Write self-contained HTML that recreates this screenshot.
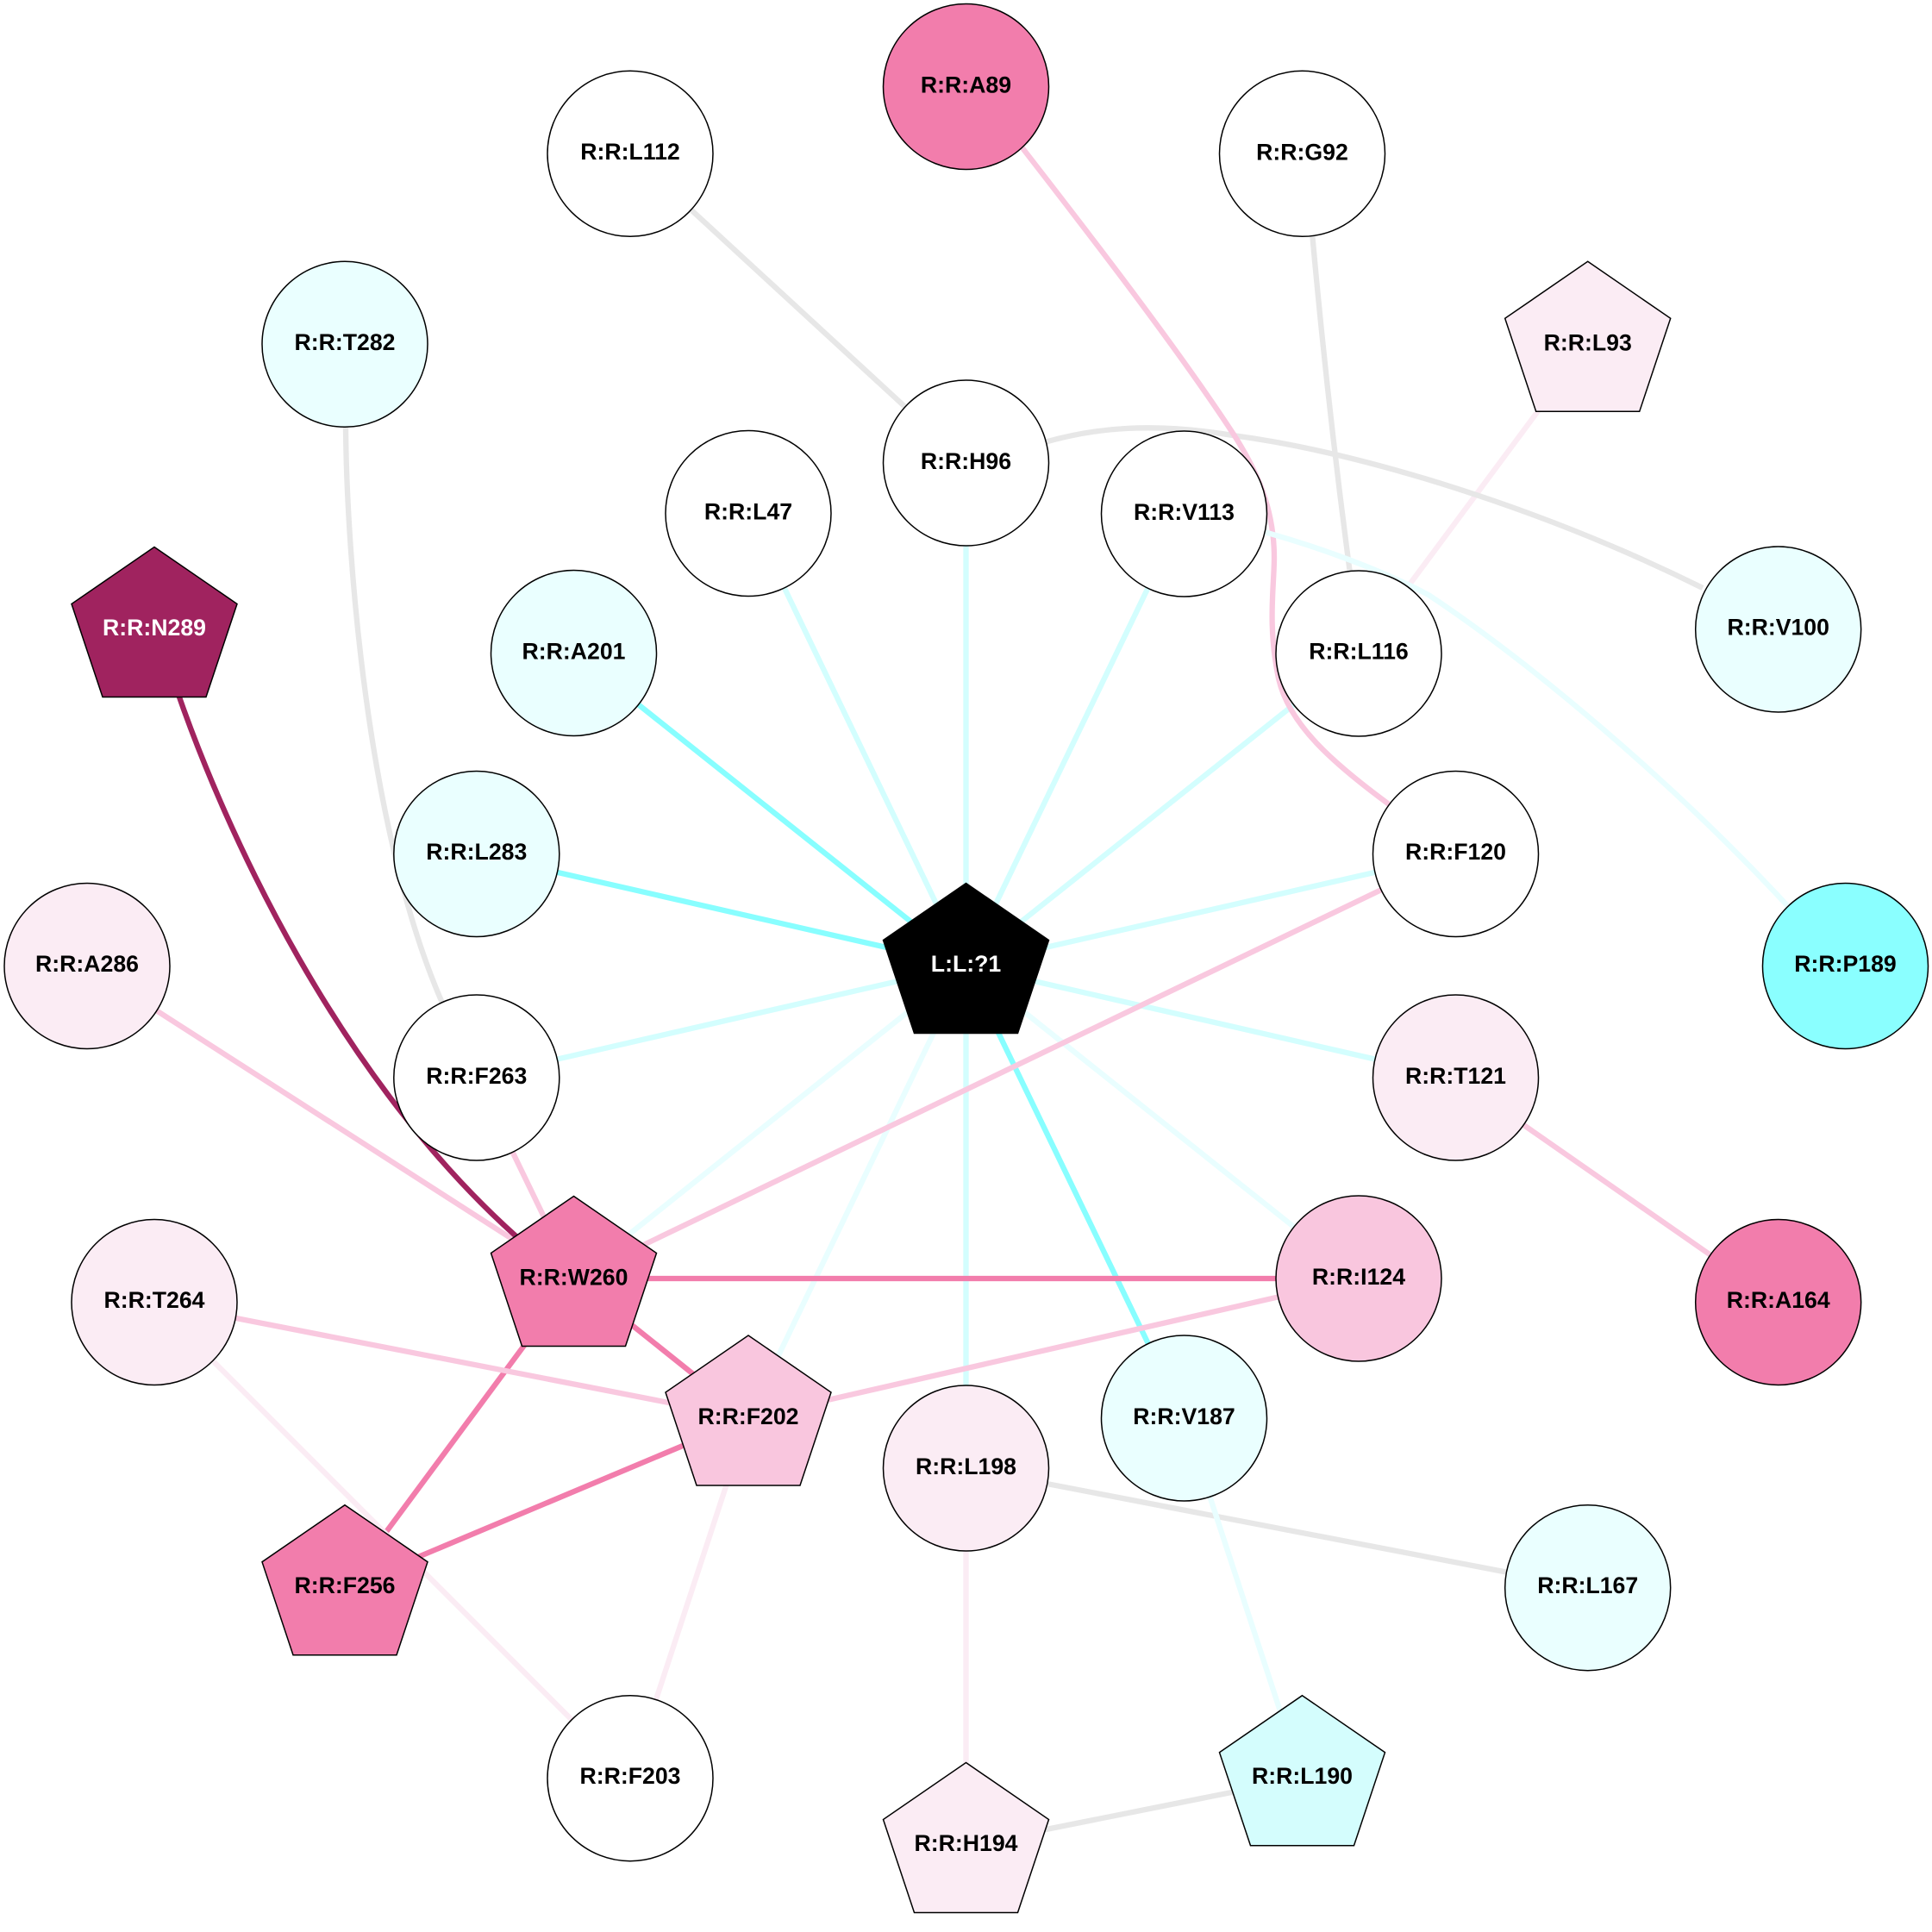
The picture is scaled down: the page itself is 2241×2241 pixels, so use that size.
<!DOCTYPE html>
<html>
<head>
<meta charset="utf-8">
<style>
html,body{margin:0;padding:0;background:#fff}
svg{display:block}
text{font-family:"Liberation Sans",sans-serif;font-weight:bold;font-size:26.67px;text-anchor:middle;fill:#000}
.n{stroke:#000;stroke-width:1.5}
.e{fill:none;stroke-width:6.3}
.g{stroke:#e7e7e7}.p{stroke:#f9c8df}.s{stroke:#f27dac}.v{stroke:#fbecf4}
.c{stroke:#88feff}.d{stroke:#d3fefe}.f{stroke:#e9feff}.m{stroke:#a0235f}
</style>
</head>
<body>
<svg xmlns="http://www.w3.org/2000/svg" width="2241" height="2241" viewBox="0 0 2241 2241">
<rect width="2241" height="2241" fill="#fff"/>
<g class="e">
<!-- spokes -->
<path class="d" d="M868 595L1120.5 1120"/>
<path class="d" d="M1120.5 537V1120"/>
<path class="d" d="M1373.5 595L1120.5 1120"/>
<path class="d" d="M1576 757.5L1120.5 1120"/>
<path class="d" d="M1688.5 990.5L1120.5 1120"/>
<path class="d" d="M1688.5 1250L1120.5 1120"/>
<path class="c" d="M665.5 757.5L1120.5 1120"/>
<path class="c" d="M552.8 990.5L1120.5 1120"/>
<path class="d" d="M552.8 1250L1120.5 1120"/>
<path class="f" d="M665.5 1483L1120.5 1120"/>
<path class="f" d="M868 1645L1120.5 1120"/>
<path class="d" d="M1120.5 1703V1120"/>
<path class="c" d="M1373.5 1645L1120.5 1120"/>
<path class="f" d="M1576 1483L1120.5 1120"/>
<!-- other straight -->
<path class="g" d="M731 178.3L1120.5 537"/>
<path class="v" d="M1841.7 399L1576 757.5"/>
<path class="p" d="M101 1120.5L665.5 1483"/>
<path class="p" d="M552.8 1250L665.5 1483"/>
<path class="p" d="M665.5 1483L1688.5 990.5"/>
<path class="s" d="M665.5 1483H1576"/>
<path class="s" d="M665.5 1483L868 1645"/>
<path class="s" d="M665.5 1483L400 1841.7"/>
<path class="p" d="M179 1510.5L868 1645"/>
<path class="p" d="M868 1645L1576 1483"/>
<path class="s" d="M868 1645L400 1841.7"/>
<path class="v" d="M868 1645L731 2062.7"/>
<path class="v" d="M179 1510.5L731 2062.7"/>
<path class="p" d="M1688.5 1250L2062.7 1510.5"/>
<path class="g" d="M1120.5 1703L1841.7 1841.7"/>
<path class="v" d="M1120.5 1703V2140.5"/>
<path class="f" d="M1373.5 1645L1510.5 2062.7"/>
<path class="g" d="M1120.5 2140.5L1510.5 2062.7"/>
<!-- curves -->
<path class="g" d="M1522 270Q1540 470 1566 665"/>
<path class="g" d="M1205 515C1270 495 1340 490 1430 505C1580 525 1790 590 1975 682"/>
<path class="p" d="M1180 164L1187 173C1270 280 1370 410 1433 507C1458 547 1478 590 1478 647C1478 680 1470 725 1483 787C1495 840 1545 885 1618 938"/>
<path class="f" d="M1460 615L1470 618C1530 635 1600 660 1657 690C1770 765 1940 905 2082 1060"/>
<path class="g" d="M401 490L401 495C402 640 425 960 512 1161L517 1170"/>
<path class="m" d="M205 800C260 960 392 1255 610 1444"/>
</g>

<defs>
<polygon id="pt" points="0,-96 96,-30 60,78 -60,78 -96,-30"/>
</defs>

<!-- outer ring -->
<circle class="n" cx="1120.5" cy="100.5" r="96" fill="#f27dac"/><text x="1120.5" y="107.5">R:R:A89</text>
<circle class="n" cx="1510.5" cy="178.3" r="96" fill="#fff"/><text x="1510.5" y="185.3">R:R:G92</text>
<use href="#pt" class="n" x="1841.7" y="399.3" fill="#fbecf4"/><text x="1841.7" y="406.3">R:R:L93</text>
<circle class="n" cx="2062.7" cy="730" r="96" fill="#eaffff"/><text x="2062.7" y="736.5">R:R:V100</text>
<circle class="n" cx="2140.5" cy="1120.5" r="96" fill="#8affff"/><text x="2140.5" y="1127">R:R:P189</text>
<circle class="n" cx="2062.7" cy="1510.5" r="96" fill="#f27dac"/><text x="2062.7" y="1517">R:R:A164</text>
<circle class="n" cx="1841.7" cy="1841.7" r="96" fill="#eaffff"/><text x="1841.7" y="1848">R:R:L167</text>
<use href="#pt" class="n" x="1510.5" y="2062.7" fill="#d4fdfd"/><text x="1510.5" y="2069">R:R:L190</text>
<use href="#pt" class="n" x="1120.5" y="2140.5" fill="#fbecf4"/><text x="1120.5" y="2147">R:R:H194</text>
<circle class="n" cx="731" cy="2062.7" r="96" fill="#fff"/><text x="731" y="2069">R:R:F203</text>
<use href="#pt" class="n" x="400" y="1841.7" fill="#f27dac"/><text x="400" y="1848">R:R:F256</text>
<circle class="n" cx="179" cy="1510.5" r="96" fill="#fbecf4"/><text x="179" y="1517">R:R:T264</text>
<circle class="n" cx="101" cy="1120.5" r="96" fill="#fbecf4"/><text x="101" y="1127">R:R:A286</text>
<use href="#pt" class="n" x="179" y="730.5" fill="#a0235f"/><text x="179" y="737" style="fill:#fff">R:R:N289</text>
<circle class="n" cx="400" cy="399.3" r="96" fill="#eaffff"/><text x="400" y="406">R:R:T282</text>
<circle class="n" cx="731" cy="178.3" r="96" fill="#fff"/><text x="731" y="185">R:R:L112</text>

<!-- inner ring -->
<circle class="n" cx="1120.5" cy="537" r="96" fill="#fff"/><text x="1120.5" y="544">R:R:H96</text>
<circle class="n" cx="1373.5" cy="596" r="96" fill="#fff"/><text x="1373.5" y="603">R:R:V113</text>
<circle class="n" cx="1576" cy="758" r="96" fill="#fff"/><text x="1576" y="764.5">R:R:L116</text>
<circle class="n" cx="1688.5" cy="990.5" r="96" fill="#fff"/><text x="1688.5" y="997">R:R:F120</text>
<circle class="n" cx="1688.5" cy="1250" r="96" fill="#fbecf4"/><text x="1688.5" y="1257">R:R:T121</text>
<circle class="n" cx="1576" cy="1483" r="96" fill="#f9c6de"/><text x="1576" y="1490">R:R:I124</text>
<circle class="n" cx="1373.5" cy="1645" r="96" fill="#eaffff"/><text x="1373.5" y="1652">R:R:V187</text>
<circle class="n" cx="1120.5" cy="1703" r="96" fill="#fbecf4"/><text x="1120.5" y="1710">R:R:L198</text>
<use href="#pt" class="n" x="868" y="1645" fill="#f9c6de"/><text x="868" y="1652">R:R:F202</text>
<use href="#pt" class="n" x="665.5" y="1483.5" fill="#f27dac"/><text x="665.5" y="1490.5">R:R:W260</text>
<circle class="n" cx="552.8" cy="1250" r="96" fill="#fff"/><text x="552.8" y="1257">R:R:F263</text>
<circle class="n" cx="552.8" cy="990.5" r="96" fill="#eaffff"/><text x="552.8" y="997">R:R:L283</text>
<circle class="n" cx="665.5" cy="757.5" r="96" fill="#eaffff"/><text x="665.5" y="764.5">R:R:A201</text>
<circle class="n" cx="868" cy="595.5" r="96" fill="#fff"/><text x="868" y="602.5">R:R:L47</text>

<!-- centre -->
<use href="#pt" class="n" x="1120.5" y="1120.5" fill="#000"/><text x="1120.5" y="1127" style="fill:#fff">L:L:?1</text>
</svg>
</body>
</html>
